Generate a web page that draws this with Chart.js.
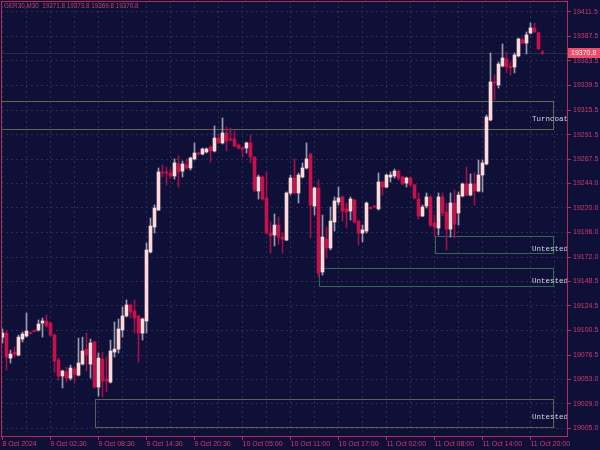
<!DOCTYPE html>
<html>
<head>
<meta charset="utf-8">
<script src="https://cdn.jsdelivr.net/npm/chart.js@4.4.1/dist/chart.umd.min.js"></script>
<style>
    html, body { margin: 0; padding: 0; background: #0e1038; }
    canvas { display: block; }
</style>
</head>
<body>
<canvas id="candleChart" width="600" height="450"></canvas>
<script>
// GER30 M30 - 값은 그림에서 읽은 근사치
const symbolTitle = 'GER30,M30';
const timeLabels = ['8 Oct 2024', '9 Oct 02:30', '9 Oct 08:30', '9 Oct 14:30', '9 Oct 20:30', '10 Oct 05:00',
    '10 Oct 11:00', '10 Oct 17:00', '11 Oct 02:00', '11 Oct 08:00', '11 Oct 14:00', '11 Oct 20:00'];
const priceTicks = [19005.0, 19029.0, 19053.0, 19076.5, 19100.5, 19124.5, 19148.5, 19172.0, 19196.0,
    19220.0, 19244.0, 19267.5, 19291.5, 19315.5, 19339.5, 19363.5, 19387.5, 19411.5];

const opens = [
    19094.0, 19097.9, 19073.5, 19079.4, 19076.5, 19092.1, 19095.0, 19098.5, 19100.4, 19100.9,
    19107.7, 19109.7, 19107.7, 19096.0, 19071.6, 19056.0, 19059.9, 19054.0, 19062.8, 19056.9,
    19067.7, 19082.3, 19067.7, 19089.2, 19045.3, 19072.6, 19053.1, 19050.1, 19079.4, 19082.3,
    19100.9, 19114.6, 19125.3, 19119.4, 19114.6, 19097.9, 19109.7, 19177.0, 19201.4, 19218.0,
    19255.1, 19255.1, 19254.1, 19251.2, 19262.9, 19256.0, 19261.9, 19259.0, 19267.8, 19273.6,
    19272.6, 19274.6, 19279.5, 19275.6, 19288.2, 19283.4, 19293.1, 19287.3, 19287.3, 19281.4,
    19278.5, 19278.5, 19283.4, 19269.7, 19236.5, 19250.2, 19229.7, 19195.5, 19193.6, 19203.3,
    19191.6, 19188.7, 19234.6, 19249.2, 19234.6, 19250.2, 19259.0, 19272.6, 19221.9, 19239.5,
    19157.5, 19189.7, 19180.9, 19206.3, 19225.8, 19230.7, 19219.0, 19217.0, 19227.7, 19207.2,
    19195.5, 19197.5, 19220.4, 19221.9, 19219.0, 19245.3, 19240.4, 19250.2, 19251.2, 19256.0,
    19250.2, 19244.3, 19249.2, 19242.4, 19228.7, 19212.1, 19221.9, 19230.7, 19205.3, 19200.4,
    19230.7, 19216.0, 19199.4, 19224.8, 19215.1, 19231.7, 19243.4, 19232.6, 19243.4, 19236.5,
    19252.1, 19262.9, 19305.8, 19342.9, 19340.0, 19358.5, 19365.3, 19358.0, 19357.5, 19368.3,
    19383.9, 19380.9, 19390.7, 19395.6, 19390.7, 19371.8
];
const highs = [
    19101.9, 19099.9, 19081.3, 19084.3, 19096.0, 19098.9, 19117.5, 19098.9, 19101.0, 19110.7,
    19112.6, 19115.5, 19108.7, 19097.0, 19073.5, 19061.8, 19064.8, 19066.7, 19064.8, 19093.1,
    19094.0, 19097.9, 19092.1, 19090.1, 19078.4, 19079.4, 19074.5, 19091.1, 19108.7, 19111.6,
    19123.3, 19130.2, 19126.3, 19130.2, 19115.0, 19112.6, 19185.8, 19210.2, 19222.9, 19259.0,
    19261.9, 19259.9, 19258.0, 19267.8, 19270.7, 19265.8, 19267.8, 19269.7, 19283.4, 19274.6,
    19278.5, 19278.5, 19280.4, 19300.0, 19292.2, 19307.8, 19299.0, 19298.0, 19295.1, 19282.4,
    19279.5, 19284.3, 19291.2, 19270.0, 19252.1, 19251.2, 19255.1, 19206.3, 19214.1, 19211.2,
    19195.5, 19235.6, 19252.1, 19267.8, 19254.1, 19263.9, 19283.4, 19273.0, 19240.4, 19247.3,
    19213.1, 19201.4, 19220.9, 19230.7, 19240.4, 19231.7, 19224.8, 19230.7, 19228.7, 19207.5,
    19203.3, 19225.8, 19220.9, 19222.4, 19254.1, 19246.3, 19253.1, 19255.1, 19258.0, 19257.0,
    19251.2, 19250.2, 19250.2, 19243.4, 19234.6, 19222.9, 19234.6, 19231.7, 19213.1, 19234.6,
    19234.6, 19224.8, 19234.6, 19237.5, 19235.6, 19244.3, 19259.9, 19253.1, 19254.1, 19266.8,
    19266.8, 19310.7, 19371.2, 19349.7, 19362.4, 19380.0, 19372.2, 19362.4, 19371.2, 19385.8,
    19385.8, 19391.7, 19400.5, 19400.5, 19391.7, 19373.8
];
const lows = [
    19088.2, 19061.8, 19068.7, 19074.5, 19075.5, 19089.2, 19094.0, 19097.0, 19099.0, 19099.9,
    19094.0, 19103.8, 19095.0, 19059.9, 19052.1, 19044.3, 19050.1, 19052.1, 19049.1, 19056.0,
    19066.7, 19060.9, 19054.0, 19044.3, 19036.5, 19035.5, 19040.4, 19049.1, 19074.5, 19078.4,
    19094.0, 19113.6, 19112.6, 19097.9, 19069.6, 19091.1, 19097.9, 19176.0, 19195.5, 19217.5,
    19250.2, 19242.4, 19249.2, 19248.2, 19240.4, 19250.2, 19258.0, 19257.0, 19266.8, 19271.7,
    19271.7, 19273.6, 19264.8, 19274.6, 19283.0, 19282.4, 19275.6, 19285.3, 19279.5, 19277.5,
    19269.7, 19273.6, 19263.9, 19235.6, 19228.7, 19227.7, 19194.6, 19176.0, 19182.9, 19184.8,
    19176.0, 19188.0, 19232.6, 19233.6, 19224.8, 19249.2, 19258.0, 19190.7, 19213.1, 19152.6,
    19154.5, 19171.1, 19179.0, 19197.5, 19222.9, 19207.2, 19200.4, 19208.2, 19205.3, 19183.8,
    19186.8, 19195.5, 19219.0, 19220.4, 19218.0, 19232.6, 19239.5, 19245.3, 19249.2, 19247.3,
    19242.4, 19240.4, 19241.4, 19228.7, 19209.2, 19211.5, 19219.9, 19201.4, 19192.6, 19193.6,
    19212.1, 19179.0, 19191.6, 19190.7, 19203.3, 19230.7, 19231.7, 19231.7, 19222.9, 19235.6,
    19235.6, 19261.9, 19305.0, 19325.3, 19337.0, 19357.5, 19351.7, 19349.7, 19351.7, 19367.3,
    19380.0, 19370.2, 19389.7, 19391.2, 19375.1, 19369.8
];
const closes = [
    19097.9, 19074.5, 19077.4, 19077.4, 19094.0, 19097.0, 19099.9, 19097.5, 19099.4, 19106.7,
    19109.7, 19104.8, 19096.0, 19070.6, 19056.0, 19060.9, 19054.0, 19063.8, 19057.9, 19068.7,
    19080.4, 19076.5, 19088.2, 19045.3, 19073.5, 19051.1, 19051.1, 19080.4, 19082.3, 19101.9,
    19114.6, 19125.3, 19118.5, 19112.6, 19097.9, 19111.6, 19179.0, 19202.4, 19219.9, 19255.1,
    19254.1, 19254.1, 19251.2, 19263.9, 19255.1, 19262.9, 19259.0, 19268.7, 19273.6, 19272.6,
    19277.5, 19277.5, 19275.6, 19288.2, 19283.4, 19293.1, 19285.3, 19286.3, 19280.4, 19278.5,
    19277.5, 19283.4, 19269.7, 19237.5, 19250.2, 19228.7, 19195.5, 19192.6, 19203.3, 19191.6,
    19189.7, 19234.6, 19249.2, 19234.6, 19252.1, 19259.0, 19267.8, 19222.9, 19239.5, 19156.5,
    19191.6, 19180.9, 19207.2, 19226.8, 19229.7, 19217.0, 19216.0, 19228.7, 19206.3, 19195.5,
    19198.5, 19224.8, 19219.4, 19220.9, 19245.3, 19240.4, 19252.1, 19252.1, 19256.0, 19249.2,
    19243.4, 19249.2, 19242.4, 19229.7, 19212.1, 19220.9, 19230.7, 19203.3, 19201.4, 19230.7,
    19215.1, 19199.4, 19224.8, 19204.3, 19232.6, 19243.4, 19232.6, 19243.4, 19236.5, 19252.1,
    19263.9, 19308.7, 19342.9, 19341.9, 19360.4, 19366.3, 19357.5, 19357.0, 19369.2, 19384.8,
    19380.9, 19388.8, 19395.6, 19391.7, 19375.1, 19370.8
];

// 공급/수요 존 (가격 범위 + 시작/끝 봉 번호)
const zoneTop = [19324.7, 19192.9, 19161.7, 19033.9];
const zoneBottom = [19297.3, 19176.4, 19144.2, 19006.6];
const zoneStart = [-3, 108, 79, 23];
const zoneEnd = [137.6, 137.6, 137.6, 137.6];
const zoneLabels = ['Turncoat', 'Untested', 'Untested', 'Untested'];
const zoneColors = ['#62664e', '#2e6a55', '#2e6a55', '#5c6058'];

const bidPrice = closes[closes.length - 1];

const BG = '#0e1038';
const BULL = '#ffd8da';
const BEAR = '#c8104c';
const BULL_WICK = '#9a9ab0';
const BEAR_WICK = '#a0124a';
const AXIS = '#b02c5c';
const LABEL = '#d23c6a';
const GRID = '#2c2e4a';
const axisFont = { family: "'Liberation Sans Narrow', 'Liberation Sans', sans-serif", size: 7 };

const idx = opens.map((_, i) => i);
const isBull = i => closes[i] >= opens[i];

const chartPlugin = {
    id: 'mtDecor',
    beforeDraw(chart) {
        const c = chart.ctx;
        c.save();
        c.fillStyle = BG;
        c.fillRect(0, 0, chart.width, chart.height);
        c.restore();
    },
    beforeDatasetsDraw(chart) {
        const c = chart.ctx, a = chart.chartArea;
        const xs = chart.scales.x, ys = chart.scales.y;
        c.save();
        // 존 사각형
        zoneTop.forEach((top, k) => {
            const x1 = Math.max(a.left, Math.round(xs.getPixelForValue(zoneStart[k]))) + 0.5;
            const x2 = Math.round(xs.getPixelForValue(zoneEnd[k])) + 0.5;
            const y1 = Math.round(ys.getPixelForValue(top)) + 0.5;
            const y2 = Math.round(ys.getPixelForValue(zoneBottom[k])) + 0.5;
            c.strokeStyle = zoneColors[k];
            c.lineWidth = 1;
            c.strokeRect(x1, y1, x2 - x1, y2 - y1);
        });
        // Bid 라인
        const by = Math.round(ys.getPixelForValue(bidPrice)) + 0.5;
        c.strokeStyle = '#2a2a40';
        c.beginPath();
        c.moveTo(a.left, by);
        c.lineTo(a.right, by);
        c.stroke();
        c.restore();
    },
    afterDraw(chart) {
        const c = chart.ctx, a = chart.chartArea;
        const ys = chart.scales.y;
        c.save();
        // 존 라벨
        c.font = "7.5px 'Liberation Mono', monospace";
        c.fillStyle = '#d6d6de';
        c.textAlign = 'right';
        c.textBaseline = 'middle';
        zoneTop.forEach((top, k) => {
            const y1 = ys.getPixelForValue(top);
            const y2 = ys.getPixelForValue(zoneBottom[k]);
            const h = y2 - y1;
            c.fillText(zoneLabels[k], a.right + 1, y2 - (0.55 * h - 5.3));
        });
        // 프레임
        c.strokeStyle = AXIS;
        c.lineWidth = 1;
        c.strokeRect(a.left + 0.5, a.top + 0.5, a.right - a.left, a.bottom - a.top);
        // 현재가 라벨
        const by = Math.round(ys.getPixelForValue(bidPrice));
        c.fillStyle = '#e8506e';
        c.fillRect(a.right + 1, by - 5, 32, 10);
        c.font = `${axisFont.size}px ${axisFont.family}`;
        c.fillStyle = '#ffe2e8';
        c.textAlign = 'left';
        c.fillText(bidPrice.toFixed(1), a.right + 4, by);
        // 상단 제목
        const n = opens.length - 1;
        c.font = `6.3px ${axisFont.family}`;
        c.fillStyle = LABEL;
        c.fillText(`${symbolTitle}  ${opens[n].toFixed(1)} ${highs[n].toFixed(1)} ${lows[n].toFixed(1)} ${closes[n].toFixed(1)}`, 4, 6.5);
        c.restore();
    }
};

new Chart(document.getElementById('candleChart'), {
    type: 'bar',
    data: {
        datasets: [
            {
                label: 'body',
                data: idx.map(i => ({ x: i, y: [opens[i], closes[i]] })),
                backgroundColor: ctx => isBull(ctx.dataIndex) ? BULL : BEAR,
                barThickness: 3,
                minBarLength: 1,
                grouped: false,
                borderWidth: 0
            },
            {
                label: 'wickUp',
                data: idx.filter(isBull).map(i => ({ x: i, y: [lows[i], highs[i]] })),
                backgroundColor: BULL_WICK,
                barThickness: 1,
                grouped: false,
                borderWidth: 0
            },
            {
                label: 'wickDown',
                data: idx.filter(i => !isBull(i)).map(i => ({ x: i, y: [lows[i], highs[i]] })),
                backgroundColor: BEAR_WICK,
                barThickness: 1,
                grouped: false,
                borderWidth: 0
            }
        ]
    },
    options: {
        responsive: false,
        animation: false,
        devicePixelRatio: 1,
        layout: { padding: { left: 1, top: 1, right: 0, bottom: 0 } },
        plugins: { legend: { display: false }, tooltip: { enabled: false } },
        scales: {
            x: {
                type: 'linear',
                min: -0.375,
                max: 141.125,
                offset: false,
                afterBuildTicks: s => { s.ticks = []; for (let v = 0; v <= 138; v += 6) s.ticks.push({ value: v }); },
                afterFit: s => { s.height = 14; s.paddingLeft = 0; s.paddingRight = 0; },
                grid: {
                    offset: false,
                    color: GRID,
                    tickLength: 4,
                    tickColor: ctx => ctx.index % 2 === 0 ? AXIS : 'rgba(0,0,0,0)'
                },
                border: { display: false, dash: [2, 3] },
                ticks: {
                    autoSkip: false,
                    maxRotation: 0,
                    align: 'start',
                    padding: 0,
                    color: LABEL,
                    font: axisFont,
                    callback: v => v % 12 === 0 ? timeLabels[v / 12] : ''
                }
            },
            y: {
                type: 'linear',
                position: 'right',
                min: 18997.5,
                max: 19421.9,
                afterBuildTicks: s => { s.ticks = priceTicks.map(v => ({ value: v })); },
                afterFit: s => { s.width = 33; s.paddingTop = 0; s.paddingBottom = 0; },
                grid: { color: GRID, tickLength: 4, tickColor: AXIS },
                border: { display: false, dash: [2, 3] },
                ticks: {
                    padding: 2,
                    color: LABEL,
                    font: axisFont,
                    callback: v => v.toFixed(1)
                }
            }
        }
    },
    plugins: [chartPlugin]
});
</script>
</body>
</html>
